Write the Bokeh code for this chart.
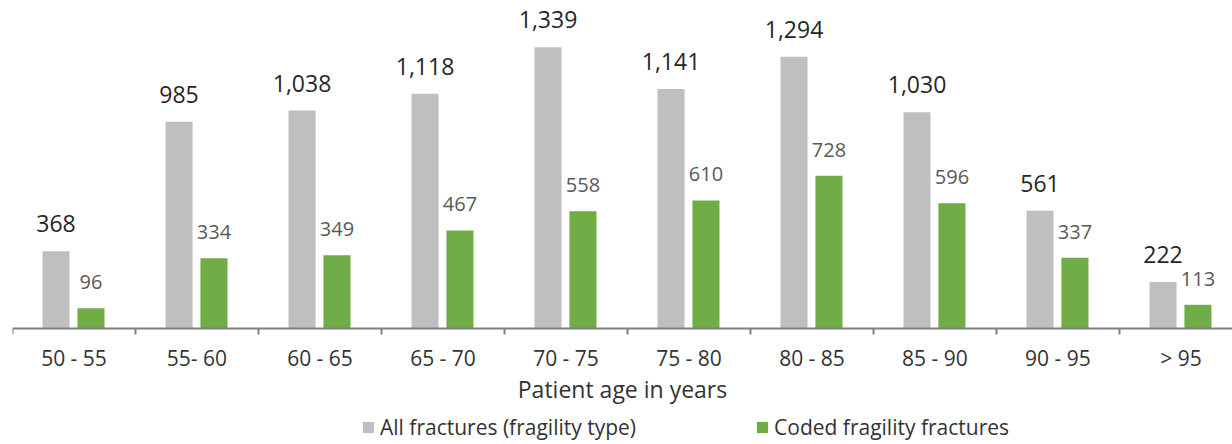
from bokeh.plotting import figure
from bokeh.models import (Range1d, FixedTicker, ColumnDataSource, LabelSet,
                          Legend, LegendItem)
from bokeh.transform import dodge
from bokeh.core.properties import value
from bokeh.embed import file_html
from bokeh.resources import INLINE

categories = ["50 - 55", "55- 60", "60 - 65", "65 - 70", "70 - 75",
              "75 - 80", "80 - 85", "85 - 90", "90 - 95", "> 95"]
all_fractures = [368, 985, 1038, 1118, 1339, 1141, 1294, 1030, 561, 222]
coded_fractures = [96, 334, 349, 467, 558, 610, 728, 596, 337, 113]

FONT = "Open Sans"
GRAY = "#BFBFBF"
GREEN = "#70AD47"

centers = [i + 0.5 for i in range(len(categories))]
src = ColumnDataSource(dict(
    x=centers,
    all=all_fractures,
    coded=coded_fractures,
    all_lbl=[f"{v:,}" for v in all_fractures],
    coded_lbl=[f"{v:,}" for v in coded_fractures],
))

p = figure(width=1232, height=444,
           x_range=Range1d(0, 9.919), y_range=Range1d(-552.4, 1562),
           output_backend="svg", toolbar_location=None,
           min_border_left=12, min_border_right=0, min_border_top=0,
           min_border_bottom=0)
p.outline_line_color = None
p.xgrid.visible = False
p.ygrid.visible = False
p.yaxis.visible = False

r1 = p.vbar(x=dodge("x", -0.146), top="all", width=0.22, source=src,
            fill_color=GRAY, line_color=None)
r2 = p.vbar(x=dodge("x", 0.138), top="coded", width=0.22, source=src,
            fill_color=GREEN, line_color=None)

p.add_layout(LabelSet(x=dodge("x", -0.146), y="all", text="all_lbl", source=src,
                      text_align="center", text_baseline="bottom", y_offset=19,
                      text_font=value(FONT), text_font_size="23px",
                      text_color="#262626"))
p.add_layout(LabelSet(x=dodge("x", 0.138), y="coded", text="coded_lbl", source=src,
                      text_align="center", text_baseline="bottom", y_offset=19,
                      text_font=value(FONT), text_font_size="20px",
                      text_color="#595959"))

ax = p.xaxis[0]
ax.fixed_location = 0
ax.ticker = FixedTicker(ticks=centers, minor_ticks=list(range(len(categories) + 1)))
ax.major_label_overrides = {c: cat for c, cat in zip(centers, categories)}
ax.axis_line_color = "#808080"
ax.axis_line_width = 2
ax.major_tick_line_color = None
ax.major_tick_out = 0
ax.major_tick_in = 0
ax.minor_tick_line_color = "#808080"
ax.minor_tick_line_width = 2
ax.minor_tick_out = 6
ax.minor_tick_in = 0
ax.major_label_standoff = 9
ax.major_label_text_font = FONT
ax.major_label_text_font_size = "21px"
ax.major_label_text_color = "#333333"
ax.axis_label = "Patient age in years"
ax.axis_label_text_font = FONT
ax.axis_label_text_font_size = "23px"
ax.axis_label_text_font_style = "normal"
ax.axis_label_text_color = "#333333"
ax.axis_label_standoff = -2

legend = Legend(items=[LegendItem(label="All fractures (fragility type)", renderers=[r1]),
                       LegendItem(label="Coded fragility fractures", renderers=[r2])],
                orientation="horizontal", location=(349, 3),
                glyph_width=14, glyph_height=14, label_standoff=5, spacing=119,
                padding=0, margin=0, border_line_color=None,
                background_fill_alpha=0,
                label_text_font=FONT, label_text_font_size="21px",
                label_text_color="#333333")
p.add_layout(legend, "center")

open("out.html", "w").write(file_html(p, INLINE))
